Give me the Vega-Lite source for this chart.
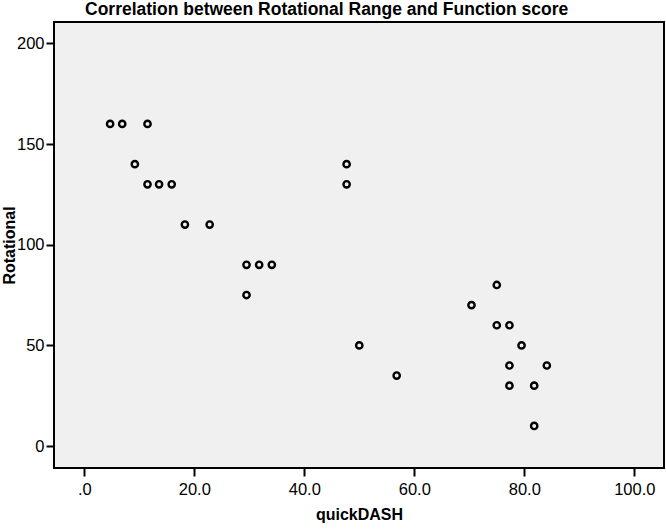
{
  "$schema": "https://vega.github.io/schema/vega-lite/v6.json",
  "width": 610,
  "height": 446,
  "autosize": {"type": "none"},
  "padding": {"left": 54, "top": 22, "right": 2, "bottom": 61},
  "background": "#ffffff",
  "title": {
    "text": "Correlation between Rotational Range and Function score",
    "font": "Liberation Sans",
    "fontSize": 17.5,
    "fontWeight": "bold",
    "color": "#000000",
    "anchor": "start",
    "frame": "group",
    "dx": 31,
    "offset": 4
  },
  "config": {
    "view": {"fill": "#f0f0f0", "stroke": "#000000", "strokeWidth": 2},
    "axis": {
      "domain": false,
      "grid": false,
      "ticks": true,
      "tickColor": "#000000",
      "tickWidth": 2,
      "tickSize": 8,
      "labelFont": "Liberation Sans",
      "labelFontSize": 16.5,
      "labelColor": "#000000",
      "titleFont": "Liberation Sans",
      "titleFontSize": 16,
      "titleFontWeight": "bold",
      "titleColor": "#000000"
    }
  },
  "data": {
    "values": [
      {"quickDASH": 4.7, "Rotational": 160},
      {"quickDASH": 6.9, "Rotational": 160},
      {"quickDASH": 11.5, "Rotational": 160},
      {"quickDASH": 9.2, "Rotational": 140},
      {"quickDASH": 11.5, "Rotational": 130},
      {"quickDASH": 13.6, "Rotational": 130},
      {"quickDASH": 15.9, "Rotational": 130},
      {"quickDASH": 18.3, "Rotational": 110},
      {"quickDASH": 22.8, "Rotational": 110},
      {"quickDASH": 29.5, "Rotational": 90},
      {"quickDASH": 31.8, "Rotational": 90},
      {"quickDASH": 34.1, "Rotational": 90},
      {"quickDASH": 29.5, "Rotational": 75},
      {"quickDASH": 47.7, "Rotational": 140},
      {"quickDASH": 47.7, "Rotational": 130},
      {"quickDASH": 75.0, "Rotational": 80},
      {"quickDASH": 70.4, "Rotational": 70},
      {"quickDASH": 75.0, "Rotational": 60},
      {"quickDASH": 77.3, "Rotational": 60},
      {"quickDASH": 50.0, "Rotational": 50},
      {"quickDASH": 79.5, "Rotational": 50},
      {"quickDASH": 56.8, "Rotational": 35},
      {"quickDASH": 77.3, "Rotational": 40},
      {"quickDASH": 84.1, "Rotational": 40},
      {"quickDASH": 77.3, "Rotational": 30},
      {"quickDASH": 81.8, "Rotational": 30},
      {"quickDASH": 81.8, "Rotational": 10}
    ]
  },
  "mark": {"type": "point", "shape": "circle", "filled": false, "stroke": "#000000", "strokeWidth": 2.4, "size": 40, "opacity": 1},
  "encoding": {
    "x": {
      "field": "quickDASH",
      "type": "quantitative",
      "scale": {"domain": [-5.5, 105.4], "nice": false, "zero": false},
      "axis": {
        "values": [0, 20, 40, 60, 80, 100],
        "labelExpr": "datum.value == 0 ? '.0' : format(datum.value, '.1f')",
        "labelPadding": 5,
        "titlePadding": 9
      }
    },
    "y": {
      "field": "Rotational",
      "type": "quantitative",
      "scale": {"domain": [-10.9, 210.6], "nice": false, "zero": false},
      "axis": {
        "values": [0, 50, 100, 150, 200],
        "labelPadding": 2,
        "titleX": -45,
        "titleBaseline": "middle"
      }
    }
  }
}
